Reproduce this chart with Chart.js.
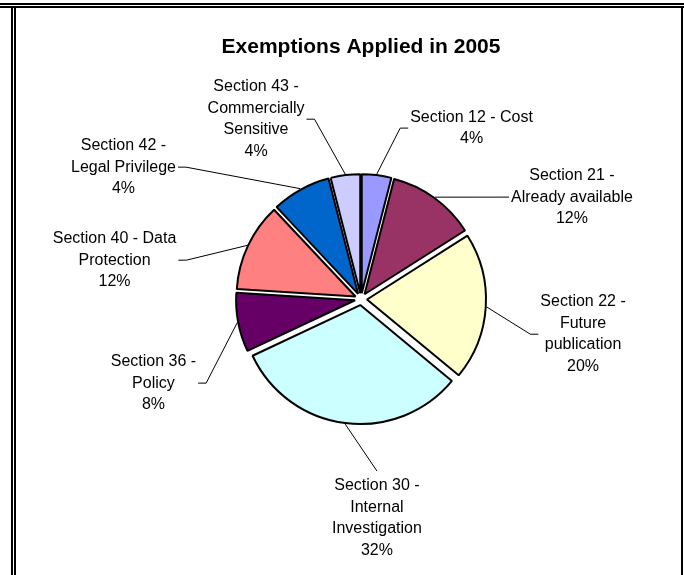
<!DOCTYPE html>
<html>
<head>
<meta charset="utf-8">
<script src="https://cdn.jsdelivr.net/npm/chart.js@4/dist/chart.umd.min.js"></script>
<style>
body { margin:0; background:#fff; }
#wrap { position:relative; width:684px; height:575px; overflow:hidden; }
.ln { position:absolute; background:#000; }
canvas { position:absolute; left:0; top:0; }
</style>
</head>
<body>
<div id="wrap">
<canvas id="pieChart" width="684" height="575"></canvas>
<div class="ln" style="left:0;top:3px;width:684px;height:2px"></div>
<div class="ln" style="left:0;top:6px;width:684px;height:2px"></div>
<div class="ln" style="left:11px;top:7px;width:2px;height:568px"></div>
<div class="ln" style="left:14px;top:7px;width:2px;height:568px"></div>
<div class="ln" style="left:681px;top:7px;width:2px;height:568px"></div>
</div>
<script>
const sections = [
  ['Section 12 - Cost'],
  ['Section 21 -', 'Already available'],
  ['Section 22 -', 'Future', 'publication'],
  ['Section 30 -', 'Internal', 'Investigation'],
  ['Section 36 -', 'Policy'],
  ['Section 40 - Data', 'Protection'],
  ['Section 42 -', 'Legal Privilege'],
  ['Section 43 -', 'Commercially', 'Sensitive']
];
const shares = [4, 12, 20, 32, 8, 12, 8, 4];
const pctLabels = ['4%', '12%', '20%', '32%', '8%', '12%', '4%', '4%'];
const colors = ['#9999FF', '#993366', '#FFFFCC', '#CCFFFF', '#660066', '#FF8080', '#0066CC', '#CCCCFF'];

// label box centre relative to pie centre (in radii) and the side the leader line joins
const labelLayout = [
  { dx: 0.929, dy: -1.437, side: 'left' },
  { dx: 1.773, dy: -0.857, side: 'left' },
  { dx: 1.866, dy: 0.295, side: 'left' },
  { dx: 0.134, dy: 1.84, side: 'top' },
  { dx: -1.744, dy: 0.706, side: 'right' },
  { dx: -2.071, dy: -0.327, side: 'right' },
  { dx: -1.996, dy: -1.109, side: 'right' },
  { dx: -0.882, dy: -1.512, side: 'right' }
];

const EXPLODE = 6;
const FONT = '16px "Liberation Sans", Arial, sans-serif';
const LINE_H = 21.5;

const explode = {
  id: 'explode',
  afterDatasetsUpdate(chart) {
    chart.getDatasetMeta(0).data.forEach(arc => {
      const mid = (arc.startAngle + arc.endAngle) / 2;
      arc.x += Math.cos(mid) * EXPLODE;
      arc.y += Math.sin(mid) * EXPLODE;
    });
  }
};

const outsideLabels = {
  id: 'outsideLabels',
  afterDatasetsDraw(chart) {
    const ctx = chart.ctx;
    const arcs = chart.getDatasetMeta(0).data;
    const cx = (chart.chartArea.left + chart.chartArea.right) / 2;
    const cy = (chart.chartArea.top + chart.chartArea.bottom) / 2;
    ctx.save();
    ctx.font = FONT;
    ctx.fillStyle = '#000';
    ctx.strokeStyle = '#000';
    ctx.lineWidth = 1;
    ctx.textAlign = 'center';
    ctx.textBaseline = 'middle';
    arcs.forEach((arc, i) => {
      const R = arc.outerRadius + 1;
      const lines = sections[i].concat([pctLabels[i]]);
      const lay = labelLayout[i];
      const bx = cx + lay.dx * 119;
      const by = cy + lay.dy * 119;
      const w = Math.max(...lines.map(t => ctx.measureText(t).width));
      const h = lines.length * LINE_H;
      lines.forEach((t, k) => {
        ctx.fillText(t, bx, by - h / 2 + LINE_H * (k + 0.5));
      });
      const mid = (arc.startAngle + arc.endAngle) / 2;
      const sx = arc.x + Math.cos(mid) * R;
      const sy = arc.y + Math.sin(mid) * R;
      ctx.beginPath();
      ctx.moveTo(sx, sy);
      if (lay.side === 'left') {
        const ex = bx - w / 2 - 2;
        ctx.lineTo(ex - 8, by);
        ctx.lineTo(ex, by);
      } else if (lay.side === 'right') {
        const ex = bx + w / 2 + 2;
        ctx.lineTo(ex + 8, by);
        ctx.lineTo(ex, by);
      } else {
        ctx.lineTo(bx, by - h / 2 - 4);
      }
      ctx.stroke();
    });
    ctx.restore();
  }
};

new Chart(document.getElementById('pieChart'), {
  type: 'pie',
  data: {
    labels: sections.map(s => s.join(' ')),
    datasets: [{
      data: shares,
      backgroundColor: colors,
      borderColor: '#000',
      borderWidth: 2,
      radius: 119
    }]
  },
  options: {
    responsive: false,
    animation: false,
    layout: { padding: { left: 40, right: 2, top: 0, bottom: 41 } },
    plugins: {
      legend: { display: false },
      tooltip: { enabled: false },
      title: {
        display: true,
        text: 'Exemptions Applied in 2005',
        color: '#000',
        font: { family: '"Liberation Sans", Arial, sans-serif', size: 21, weight: 'bold' },
        padding: { top: 35, bottom: 4 }
      }
    }
  },
  plugins: [explode, outsideLabels]
});
</script>
</body>
</html>
